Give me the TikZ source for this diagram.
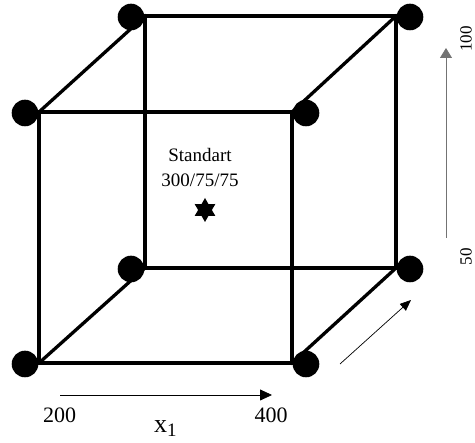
\documentclass[tikz,border=0pt]{standalone}
\usepackage{fontspec}
\setmainfont{Liberation Serif}
\usetikzlibrary{arrows.meta,shapes.geometric}
\begin{document}
\begin{tikzpicture}[x=1pt,y=-1pt,
  edge/.style={line width=3.3pt,line join=miter,line cap=rect},
  dot/.style={circle,fill=black,inner sep=0pt,minimum size=26.6pt},
  lbl/.style={inner sep=0pt,anchor=base,font=\fontsize{19}{21}\selectfont},
  axis/.style={line width=0.8pt,-{Triangle[length=12pt,width=11pt]}}]
\useasboundingbox (0,0) rectangle (475,443);
% corners
\coordinate (FTL) at (39,112);
\coordinate (FTR) at (292,112);
\coordinate (FBL) at (39,363);
\coordinate (FBR) at (292,363);
\coordinate (BTL) at (145,16);
\coordinate (BTR) at (396,16);
\coordinate (BBL) at (145,268);
\coordinate (BBR) at (396,268);
% edges
\draw[edge] (BTL) -- (BTR) -- (BBR) -- (BBL) -- cycle;
\draw[edge] (FTL) -- (FTR) -- (FBR) -- (FBL) -- cycle;
\draw[edge] (FTL) -- (BTL);
\draw[edge] (FTR) -- (BTR);
\draw[edge] (FBL) -- (BBL);
\draw[edge] (FBR) -- (BBR);
% dots
\node[dot] (dFTL) at (25,113) {};
\node[dot] (dFTR) at (306,113) {};
\node[dot] (dFBL) at (25,364) {};
\node[dot] (dFBR) at (306,364) {};
\node[dot] (dBTL) at (131,17) {};
\node[dot] (dBTR) at (410,17) {};
\node[dot] (dBBL) at (131,269) {};
\node[dot] (dBBR) at (410,269) {};
% center
\node[lbl] (std) at (200,162) {Standart};
\node[lbl] (val) at (200,187) {300/75/75};
\node[star,star points=6,star point ratio=1.75,fill=black,inner sep=0pt,outer sep=0pt,minimum size=24pt] (st) at (205,210) {};
% bottom axis
\coordinate (h0) at (60,395);
\coordinate (h1) at (272,395);
\draw[axis] (h0) -- (h1);
\node[lbl,font=\fontsize{22}{24}\selectfont] (l200) at (59.5,423) {200};
\node[lbl,font=\fontsize{22}{24}\selectfont] (l400) at (271,423) {400};
\node[inner sep=0pt,anchor=base west,font=\fontsize{26}{28}\selectfont] (x1) at (154,433) {x\raisebox{-4pt}{\fontsize{19}{20}\selectfont 1}};
% diagonal axis
\coordinate (d0) at (340,364);
\coordinate (d1) at (411,300);
\draw[axis,line width=0.7pt,-{Triangle[length=11pt,width=9pt]}] (d0) -- (d1);
% vertical axis
\coordinate (v0) at (446,238);
\coordinate (v1) at (446,48);
\draw[axis,draw=gray!90!black,fill=gray!90!black,-{Triangle[length=10pt,width=12pt]}] (v0) -- (v1);
\node[lbl,anchor=center,rotate=90,font=\fontsize{17}{19}\selectfont] (l100) at (466,39) {100};
\node[lbl,anchor=center,rotate=90,font=\fontsize{17}{19}\selectfont] (l50) at (466,257) {50};
\end{tikzpicture}
\end{document}
